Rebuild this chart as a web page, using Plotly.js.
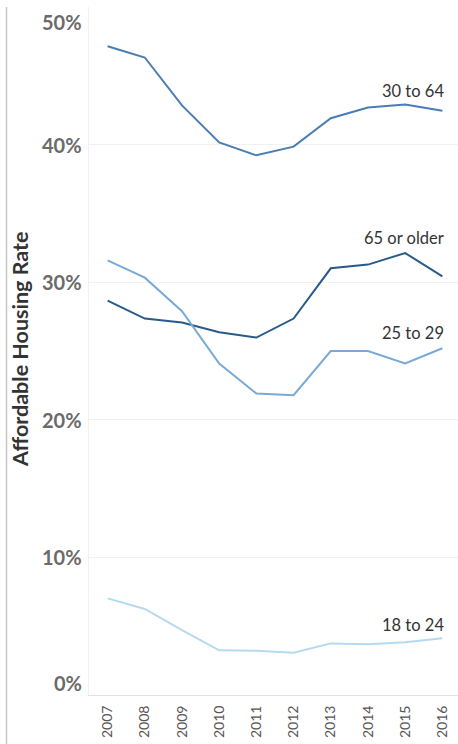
<!DOCTYPE html>
<html>
<head>
<meta charset="utf-8">
<script src="https://cdn.plot.ly/plotly-3.0.1.min.js"></script>
<style>
  html, body { margin: 0; padding: 0; background: #fff; }
  #chart { width: 458px; height: 744px; }
</style>
</head>
<body>
<div id="chart"></div>
<script>
// Affordable housing rate by age group, 2007–2016
const years = ['2007', '2008', '2009', '2010', '2011', '2012', '2013', '2014', '2015', '2016'];

const age30to64 = [0.4715, 0.4633, 0.4285, 0.4016, 0.3922, 0.3985, 0.4192, 0.4270, 0.4292, 0.4246];
const age65plus = [0.2866, 0.2736, 0.2707, 0.2636, 0.2598, 0.2736, 0.3101, 0.3128, 0.3212, 0.3043];
const age25to29 = [0.3159, 0.3033, 0.2789, 0.2409, 0.2191, 0.2179, 0.2500, 0.2500, 0.2409, 0.2520];
const age18to24 = [0.0702, 0.0625, 0.0472, 0.0325, 0.0322, 0.0307, 0.0375, 0.0368, 0.0383, 0.0412];

const seriesNames = ['30 to 64', '65 or older', '25 to 29', '18 to 24'];
const seriesValues = [age30to64, age65plus, age25to29, age18to24];
const seriesColors = ['#4a7db3', '#2a5a88', '#79aad6', '#b5daf0'];
// vertical offset (px) of each end label above its last point
const labelLift = [20, 38, 15, 13];

const yTicks = [0, 0.1, 0.2, 0.3, 0.4, 0.5];
const yTickText = ['0%', '10%', '20%', '30%', '40%', '50%'];

const FONT = 'Lato, "Open Sans", sans-serif';

const traces = seriesValues.map((vals, i) => ({
  x: years,
  y: vals,
  name: seriesNames[i],
  type: 'scatter',
  mode: 'lines',
  line: { color: seriesColors[i], width: 2 },
  hoverinfo: 'x+y+name'
}));

const annotations = [];

// series end labels
seriesValues.forEach((vals, i) => {
  annotations.push({
    x: years.length - 1,
    y: vals[vals.length - 1],
    xref: 'x', yref: 'y',
    text: seriesNames[i],
    showarrow: false,
    xanchor: 'right', yanchor: 'middle',
    xshift: 4,
    yshift: labelLift[i],
    font: { family: FONT, size: 16.5, color: '#333333' }
  });
});

// y tick labels (end labels pulled inside the pane)
yTicks.forEach((v, i) => {
  let shift = 0;
  if (i === 0) shift = 12;
  if (i === yTicks.length - 1) shift = -15;
  annotations.push({
    x: 0, y: v,
    xref: 'paper', yref: 'y',
    text: '<b>' + yTickText[i] + '</b>',
    showarrow: false,
    xanchor: 'right', yanchor: 'middle',
    xshift: -5,
    yshift: shift,
    font: { family: FONT, size: 20, color: '#6b6b6b' }
  });
});

// y axis title
annotations.push({
  x: -0.187, y: 0.503,
  xref: 'paper', yref: 'paper',
  text: '<b>Affordable Housing Rate</b>',
  textangle: -90,
  showarrow: false,
  xanchor: 'center', yanchor: 'middle',
  font: { family: FONT, size: 21.5, color: '#333333' }
});

const layout = {
  width: 458,
  height: 744,
  margin: { l: 89, r: 0, t: 7, b: 49, pad: 0 },
  paper_bgcolor: '#ffffff',
  plot_bgcolor: '#ffffff',
  showlegend: false,
  font: { family: FONT, color: '#333' },
  xaxis: {
    type: 'category',
    range: [-0.5, 9.42],
    tickangle: -90,
    tickfont: { family: FONT, size: 14, color: '#555555' },
    showgrid: false,
    zeroline: false,
    showline: true,
    linecolor: '#e2e2e2',
    linewidth: 1,
    ticks: '',
    ticklabelstandoff: 4,
    fixedrange: true
  },
  yaxis: {
    range: [0, 0.5],
    tickvals: [0.1, 0.2, 0.3, 0.4],
    showticklabels: false,
    showgrid: true,
    gridcolor: '#f1f1f1',
    gridwidth: 1,
    zeroline: false,
    showline: true,
    linecolor: '#f1f1f1',
    ticks: '',
    fixedrange: true
  },
  annotations: annotations,
  shapes: [
    {
      type: 'line',
      xref: 'paper', yref: 'paper',
      x0: -0.2236, x1: -0.2236,
      y0: -0.08, y1: 1.0,
      line: { color: '#c4c4c4', width: 1.5 }
    }
  ]
};

Plotly.newPlot('chart', traces, layout, { displayModeBar: false, staticPlot: true });
</script>
</body>
</html>
